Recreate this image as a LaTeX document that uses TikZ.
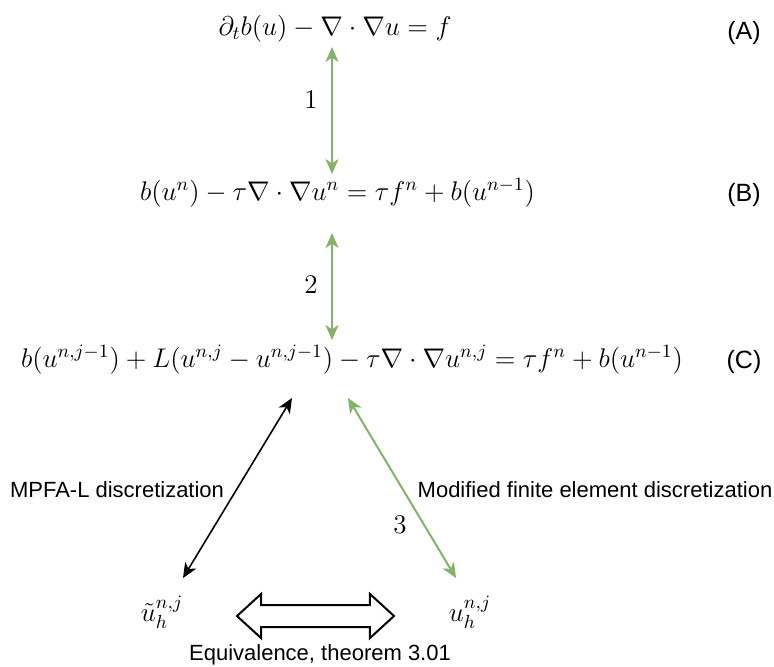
\RequirePackage{fix-cm}
\documentclass[tikz,border=0pt]{standalone}
\usepackage{fontspec}
\setsansfont{Liberation Sans}
\usetikzlibrary{arrows.meta,shapes.arrows}
\definecolor{dgreen}{HTML}{82B366}
\tikzset{mytip/.tip={Stealth[length=7.5pt,width=6.5pt,inset=2.2pt]}}
\begin{document}
\begin{tikzpicture}[x=0.5pt,y=-0.5pt,
  eq/.style={inner sep=0pt,font=\fontsize{13.5}{16}\selectfont},
  tag/.style={inner sep=0pt,font=\sffamily\fontsize{11}{13}\selectfont},
  eqtag/.style={inner sep=0pt,font=\sffamily\fontsize{12.5}{15}\selectfont},
  num/.style={inner sep=0pt,font=\fontsize{13.5}{16}\selectfont},
  garrow/.style={draw=dgreen,line width=1pt,{mytip}-{mytip}},
  barrow/.style={draw=black,line width=0.8pt,{mytip}-{mytip}}]
\useasboundingbox (0,0) rectangle (774,666);
\node[eq] (A) at (335,29) {$\partial_t b(u) - \nabla\cdot\nabla u = f$};
\node[eqtag] (tA) at (744,33) {(A)};
\node[eq] (B) at (337.5,193) {$b(u^n) - \tau\nabla\cdot\nabla u^n = \tau f^n + b(u^{n-1})$};
\node[eqtag] (tB) at (744,195) {(B)};
\node[eq] (C) at (352,360) {$b(u^{n,j-1}) + L(u^{n,j} - u^{n,j-1}) - \tau\nabla\cdot\nabla u^{n,j} = \tau f^n + b(u^{n-1})$};
\node[eqtag] (tC) at (744,362) {(C)};
\node[eq] (ut) at (162,612) {$\tilde{u}_h^{n,j}$};
\node[eq] (uh) at (470,612) {$u_h^{n,j}$};
\coordinate (a1) at (332,47);
\coordinate (b1) at (332,174);
\coordinate (b2) at (332,233);
\coordinate (c0) at (332,340);
\coordinate (c1) at (292,398);
\coordinate (u1) at (183,578);
\coordinate (c2) at (348,398);
\coordinate (u2) at (456,578);
\draw[garrow] (a1) -- (b1);
\draw[garrow] (b2) -- (c0);
\draw[barrow] (c1) -- (u1);
\draw[garrow] (c2) -- (u2);
\node[num] (n1) at (311,100) {$1$};
\node[num] (n2) at (311,285) {$2$};
\node[num] (n3) at (400,525) {$3$};
\node[tag] (lm) at (117,490) {MPFA-L discretization};
\node[tag] (lf) at (595,490) {Modified finite element discretization};
\node[double arrow,draw,line width=1pt,fill=white,inner xsep=0pt,inner ysep=5pt,
  minimum height=78.5pt,double arrow head extend=5.5pt,double arrow tip angle=85] (eqv) at (315.5,616) {};
\node[tag] (le) at (320,655) {Equivalence, theorem 3.01};
\end{tikzpicture}
\end{document}
